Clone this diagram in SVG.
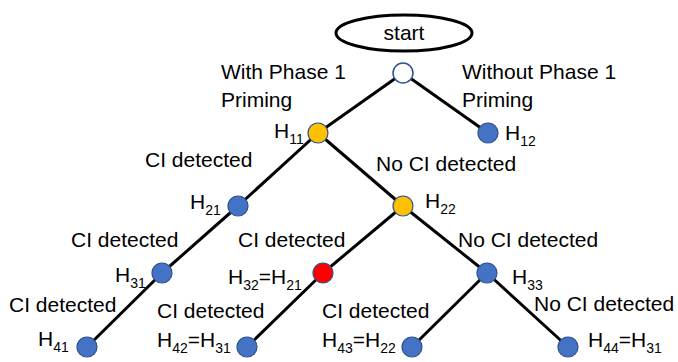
<svg xmlns="http://www.w3.org/2000/svg" width="678" height="362" viewBox="0 0 678 362">
<style>
text{font-family:"Liberation Sans",Arial,sans-serif;font-size:21px;fill:#000}
.sub{font-size:14px}
.edge{stroke:#000;stroke-width:3;fill:none}
.n{stroke:#2F528F;stroke-width:1.2}
.blue{fill:#4472C4}
.orange{fill:#FFC000}
.red{fill:#FF0000}
.white{fill:#FFFFFF;stroke-width:1.5}
</style>
<rect width="678" height="362" fill="#fff"/>
<g id="connectors">
<line class="edge" x1="403" y1="73" x2="318" y2="133"/>
<line class="edge" x1="403" y1="73" x2="488" y2="133"/>
<line class="edge" x1="318" y1="133" x2="238" y2="206"/>
<line class="edge" x1="318" y1="133" x2="403" y2="206"/>
<line class="edge" x1="238" y1="206" x2="162" y2="273"/>
<line class="edge" x1="162" y1="273" x2="87" y2="347"/>
<line class="edge" x1="403" y1="206" x2="323" y2="273"/>
<line class="edge" x1="403" y1="206" x2="487" y2="273"/>
<line class="edge" x1="323" y1="273" x2="247" y2="347"/>
<line class="edge" x1="487" y1="273" x2="412" y2="347"/>
<line class="edge" x1="487" y1="273" x2="568" y2="347"/>
</g>
<g id="start">
<ellipse cx="404" cy="33" rx="68" ry="18" fill="#fff" stroke="#000" stroke-width="3"/>
<text x="404" y="40" text-anchor="middle">start</text>
</g>
<g id="root">
<circle class="n white" cx="403" cy="73" r="10"/>
</g>
<g id="edge-labels">
<text x="221" y="79">With Phase 1</text>
<text x="221" y="107">Priming</text>
<text x="462" y="79">Without Phase 1</text>
<text x="462" y="107">Priming</text>
<text x="145" y="167">CI detected</text>
<text x="376" y="171">No CI detected</text>
<text x="71" y="247">CI detected</text>
<text x="238" y="247">CI detected</text>
<text x="458" y="247">No CI detected</text>
<text x="9" y="312">CI detected</text>
<text x="157" y="318">CI detected</text>
<text x="322" y="318">CI detected</text>
<text x="534" y="311">No CI detected</text>
</g>
<g id="H11"><circle class="n orange" cx="318" cy="133" r="10"/><text x="274" y="138">H<tspan class="sub" dy="6">11</tspan></text></g>
<g id="H12"><circle class="n blue" cx="488" cy="133" r="10"/><text x="505" y="140">H<tspan class="sub" dy="6">12</tspan></text></g>
<g id="H21"><circle class="n blue" cx="238" cy="206" r="10"/><text x="190" y="209">H<tspan class="sub" dy="6">21</tspan></text></g>
<g id="H22"><circle class="n orange" cx="403" cy="206" r="10"/><text x="425" y="208">H<tspan class="sub" dy="6">22</tspan></text></g>
<g id="H31"><circle class="n blue" cx="162" cy="273" r="10"/><text x="115" y="282">H<tspan class="sub" dy="6">31</tspan></text></g>
<g id="H32"><circle class="n red" cx="323" cy="273" r="10"/><text x="228" y="284">H<tspan class="sub" dy="6">32</tspan><tspan dy="-6">=H</tspan><tspan class="sub" dy="6">21</tspan></text></g>
<g id="H33"><circle class="n blue" cx="487" cy="273" r="10"/><text x="512" y="284">H<tspan class="sub" dy="6">33</tspan></text></g>
<g id="H41"><circle class="n blue" cx="87" cy="347" r="10"/><text x="38" y="346">H<tspan class="sub" dy="6">41</tspan></text></g>
<g id="H42"><circle class="n blue" cx="247" cy="347" r="10"/><text x="157" y="347">H<tspan class="sub" dy="6">42</tspan><tspan dy="-6">=H</tspan><tspan class="sub" dy="6">31</tspan></text></g>
<g id="H43"><circle class="n blue" cx="412" cy="347" r="10"/><text x="322" y="347">H<tspan class="sub" dy="6">43</tspan><tspan dy="-6">=H</tspan><tspan class="sub" dy="6">22</tspan></text></g>
<g id="H44"><circle class="n blue" cx="568" cy="347" r="10"/><text x="588" y="347">H<tspan class="sub" dy="6">44</tspan><tspan dy="-6">=H</tspan><tspan class="sub" dy="6">31</tspan></text></g>
</svg>
